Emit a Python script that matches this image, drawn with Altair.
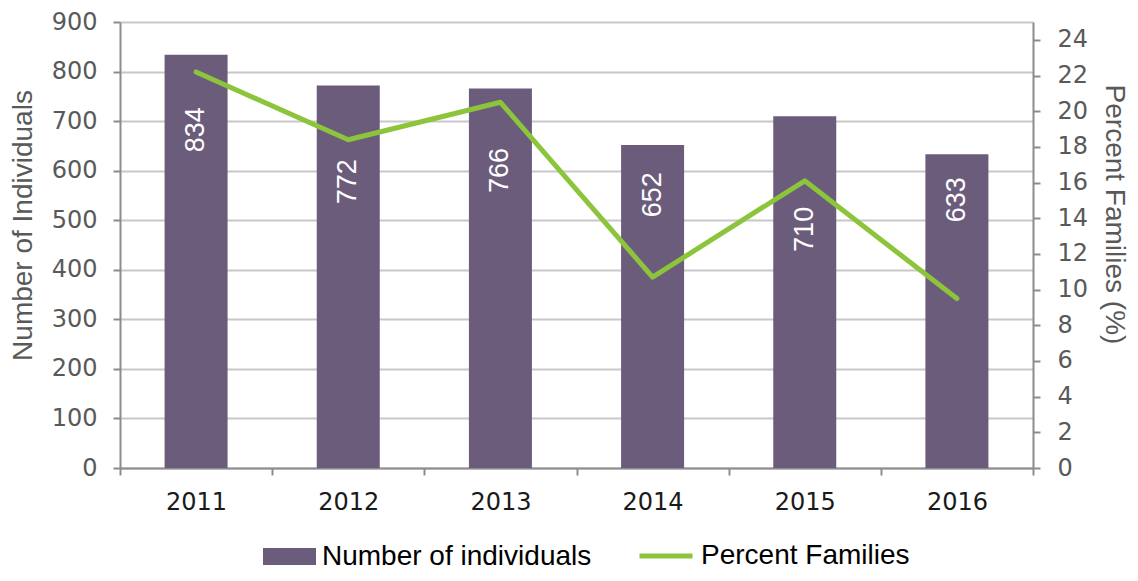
import altair as alt
import pandas as pd

years = ["2011", "2012", "2013", "2014", "2015", "2016"]
individuals = [834, 772, 766, 652, 710, 633]
percent_families = [22.2, 18.4, 20.5, 10.7, 16.1, 9.5]
# where the top of each rotated value label sits, read in "Number of Individuals" units
label_top = [728, 623, 646, 597, 527, 587]
left_ticks = list(range(0, 901, 100))
right_ticks = list(range(0, 25, 2))

df = pd.DataFrame({
    "year": years,
    "individuals": individuals,
    "pct": percent_families,
    "label_top": label_top,
    "label": [str(v) for v in individuals],
    "s1": ["Number of individuals"] * 6,
    "s2": ["Percent Families"] * 6,
})

BAR = "#6b5c7c"
GREEN = "#8cc43c"
TICKFONT = "DejaVu Sans"
TXTFONT = "Liberation Sans"

x_enc = alt.X(
    "year:N",
    title=None,
    scale=alt.Scale(paddingInner=0, paddingOuter=0),
    axis=alt.Axis(
        labelAngle=0, labelFont=TICKFONT, labelFontSize=24, labelColor="#1a1a1a",
        labelPadding=15, tickBand="extent", tickSize=7, tickColor="#8c8c8c",
        tickWidth=2, domainColor="#8c8c8c", domainWidth=2, grid=False,
    ),
)

y_left = alt.Scale(domain=[0, 900], nice=False)

left_axis = alt.Axis(
    title="Number of Individuals", values=left_ticks,
    labelFont=TICKFONT, labelFontSize=24, labelColor="#595959", labelPadding=16,
    titleFont=TXTFONT, titleFontSize=28, titleFontWeight="normal",
    titleColor="#595959", titlePadding=14, titleY=203,
    tickSize=7, tickColor="#8c8c8c", tickWidth=2,
    domainColor="#8c8c8c", domainWidth=2,
    grid=True, gridColor="#c8c8c8", gridWidth=2,
)

bars = alt.Chart(df).mark_bar(size=63, color=BAR).encode(
    x=x_enc,
    y=alt.Y("individuals:Q", scale=y_left, axis=left_axis),
    fill=alt.Fill(
        "s1:N",
        scale=alt.Scale(domain=["Number of individuals"], range=[BAR]),
        legend=alt.Legend(
            title=None, orient="none", legendX=143, legendY=508,
            symbolType="M-1,-0.32L1,-0.32L1,0.32L-1,0.32Z", symbolSize=2809,
            symbolStrokeWidth=0, labelFont=TXTFONT, labelFontSize=28,
            labelColor="#000000", labelOffset=6, padding=0, labelLimit=500,
        ),
    ),
)

labels = alt.Chart(df).mark_text(
    angle=270, align="right", baseline="middle", color="white",
    font=TXTFONT, fontSize=27,
).encode(
    x=alt.X("year:N"),
    y=alt.Y("label_top:Q", scale=y_left, axis=left_axis),
    text="label:N",
)

left = alt.layer(bars, labels)

line = alt.Chart(df).mark_line(color=GREEN, strokeWidth=5, strokeCap="round", strokeJoin="round").encode(
    x=alt.X("year:N"),
    y=alt.Y(
        "pct:Q",
        scale=alt.Scale(domain=[0, 25], nice=False),
        axis=alt.Axis(
            title="Percent Families (%)", orient="right", values=right_ticks,
            labelFont=TICKFONT, labelFontSize=24, labelColor="#595959", labelPadding=17,
            titleFont=TXTFONT, titleFontSize=28, titleFontWeight="normal",
            titleColor="#595959", titlePadding=12, titleY=192,
            tickSize=7, tickColor="#8c8c8c", tickWidth=2,
            domainColor="#8c8c8c", domainWidth=2, grid=False,
        ),
    ),
    stroke=alt.Stroke(
        "s2:N",
        scale=alt.Scale(domain=["Percent Families"], range=[GREEN]),
        legend=alt.Legend(
            title=None, orient="none", legendX=517, legendY=505,
            symbolType="stroke", symbolSize=2809, symbolStrokeWidth=5,
            labelFont=TXTFONT, labelFontSize=28, labelColor="#000000",
            labelOffset=6, padding=0, labelLimit=500,
        ),
    ),
)

chart = alt.layer(left, line).resolve_scale(y="independent").properties(
    width=913,
    height=446,
    autosize=alt.AutoSizeParams(type="none"),
    padding={"left": 112, "top": 14, "right": 97, "bottom": 105},
).configure_view(stroke=None)

chart.save("out.html", embed_options={"renderer": "svg", "actions": False})
